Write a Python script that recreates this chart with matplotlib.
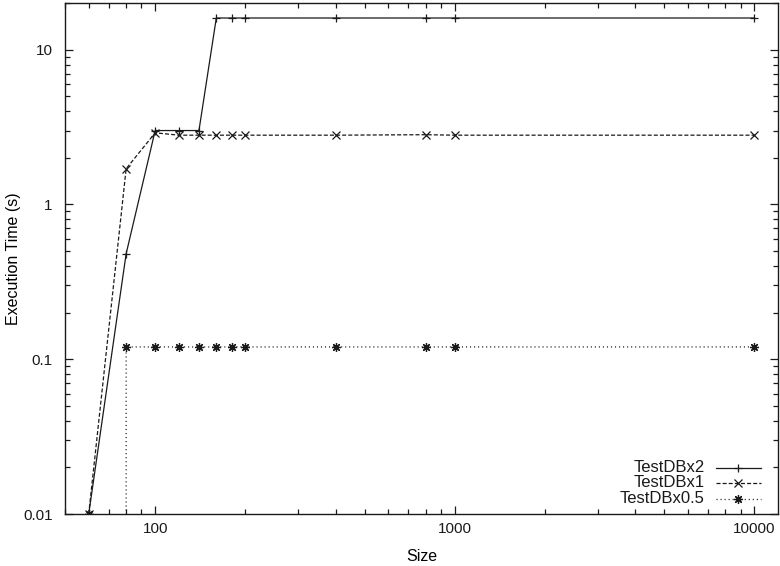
import matplotlib
matplotlib.use('Agg')
import matplotlib.pyplot as plt
from matplotlib.ticker import FixedLocator, LogLocator, NullFormatter, FuncFormatter

plt.rcParams['font.family'] = ['Liberation Sans', 'DejaVu Sans']
plt.rcParams['lines.scale_dashes'] = False

# data
size_x2 = [60, 80, 100, 120, 140, 160, 180, 200, 400, 800, 1000, 10000]
time_x2 = [0.01, 0.48, 3.0, 3.0, 3.0, 16, 16, 16, 16, 16, 16, 16]

size_x1 = [60, 80, 100, 120, 140, 160, 180, 200, 400, 800, 1000, 10000]
time_x1 = [0.01, 1.7, 2.9, 2.8, 2.8, 2.8, 2.8, 2.8, 2.8, 2.82, 2.8, 2.8]

# the 80 entry drops below the axis before jumping to 0.12
size_x05 = [60, 80, 80, 100, 120, 140, 160, 180, 200, 400, 800, 1000, 10000]
time_x05 = [0.01, 0.0001, 0.12, 0.12, 0.12, 0.12, 0.12, 0.12, 0.12, 0.12, 0.12, 0.12, 0.12]

labels = ['TestDBx2', 'TestDBx1', 'TestDBx0.5']

fig = plt.figure(figsize=(7.8, 5.66), dpi=100)
ax = fig.add_axes([65 / 780, 1 - 514 / 566, 713 / 780, 511 / 566])

c = '#1a1a1a'
ax.plot(size_x2, time_x2, color=c, lw=0.9, marker='+', ms=6, mew=0.9)
ax.plot(size_x1, time_x1, color=c, lw=0.9, ls=(0, (2.9, 1.5)), marker='x', ms=6, mew=0.9)
ax.plot(size_x05, time_x05, color=c, lw=0.9, ls=(0, (0.8, 2.1)), marker=(8, 2, 0), ms=6.5, mew=0.9)

ax.set_xscale('log')
ax.set_yscale('log')
ax.set_xlim(50, 12000)
ax.set_ylim(0.01, 20)

fmt = FuncFormatter(lambda v, p: '%g' % v)
ax.xaxis.set_major_locator(FixedLocator([100, 1000, 10000]))
ax.yaxis.set_major_locator(FixedLocator([0.01, 0.1, 1, 10]))
ax.xaxis.set_major_formatter(fmt)
ax.yaxis.set_major_formatter(fmt)
ax.xaxis.set_minor_locator(LogLocator(base=10, subs=range(2, 10), numticks=20))
ax.yaxis.set_minor_locator(LogLocator(base=10, subs=range(2, 10), numticks=20))
ax.xaxis.set_minor_formatter(NullFormatter())
ax.yaxis.set_minor_formatter(NullFormatter())

ax.tick_params(which='both', direction='in', top=True, right=True, width=0.9, labelsize=11, colors='#1a1a1a')
ax.tick_params(which='major', length=6)
ax.tick_params(which='minor', length=3.5)
ax.tick_params(axis='x', which='major', pad=6)
ax.tick_params(axis='y', which='major', pad=9)
for s in ax.spines.values():
    s.set_linewidth(1.0)
    s.set_color('#1a1a1a')

ax.set_xlabel('Size', fontsize=11.5, labelpad=9)
ax.set_ylabel('Execution Time (s)', fontsize=11.5)
ax.yaxis.set_label_coords(-0.062, 0.5)

# gnuplot style key, text right aligned, sample on the right
styles = [dict(ls='-', marker='+', ms=6), dict(ls=(0, (2.9, 1.5)), marker='x', ms=6),
          dict(ls=(0, (0.8, 2.1)), marker=(8, 2, 0), ms=6.5)]
rows = [0.0906, 0.0613, 0.0300]
for lab, st, yy in zip(labels, styles, rows):
    ax.plot([0.913, 0.976], [yy, yy], transform=ax.transAxes, color=c, lw=0.9, ls=st['ls'])
    ax.plot([0.9445], [yy], transform=ax.transAxes, color=c, marker=st['marker'], ms=st['ms'], mew=0.9)
    ax.text(0.897, yy, lab, transform=ax.transAxes, ha='right', va='center', fontsize=12, color='#1a1a1a')

fig.savefig('out.png', dpi=100)
